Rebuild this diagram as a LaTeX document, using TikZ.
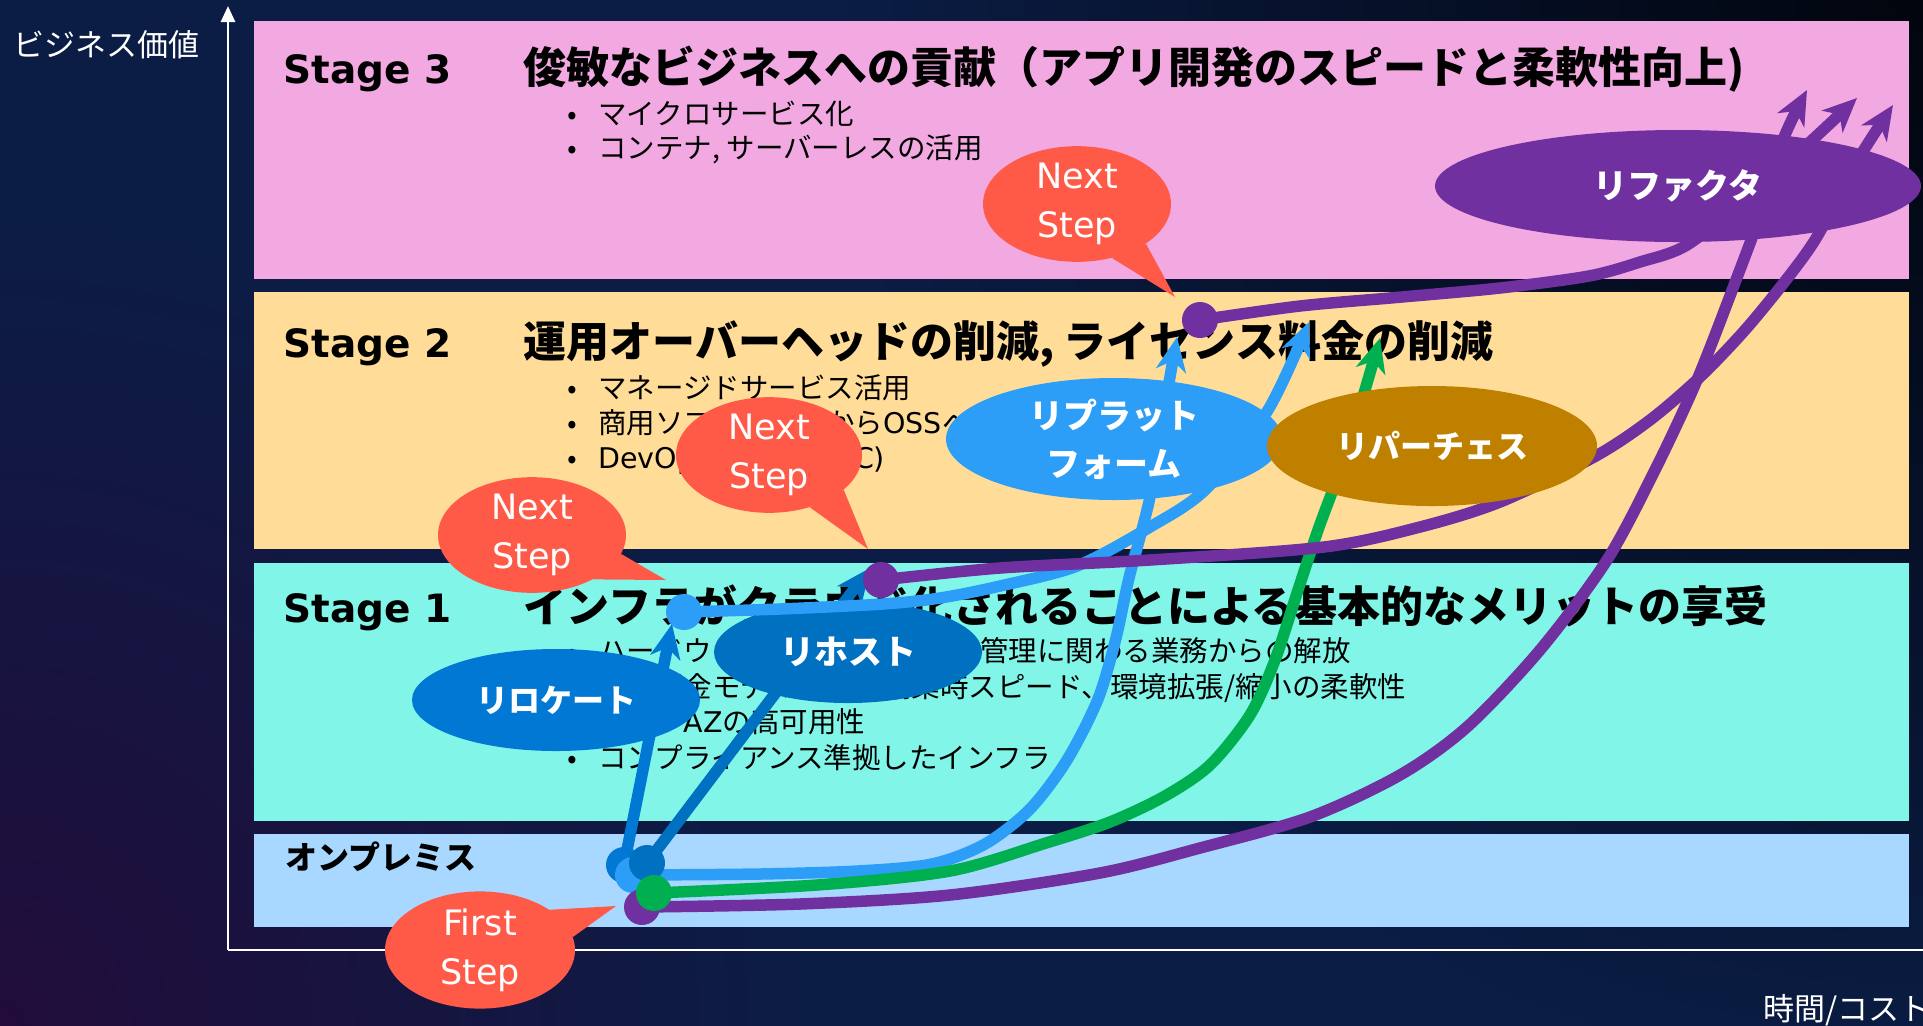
\documentclass[tikz,border=0pt]{standalone}
\usepackage{fontspec}
\setmainfont{Noto Sans CJK JP}
\newfontfamily\dvs{DejaVu Sans}
\usetikzlibrary{arrows.meta,shapes.geometric}
\definecolor{bgUR}{HTML}{01050D}
\definecolor{bgMid}{HTML}{0B1D45}
\definecolor{bgLL}{HTML}{210C3B}
\definecolor{pinkS}{HTML}{F2A8E1}
\definecolor{yelS}{HTML}{FFDD99}
\definecolor{cyaS}{HTML}{82F5E9}
\definecolor{onpS}{HTML}{A8D8FF}
\definecolor{coralc}{HTML}{FF5A48}
\definecolor{refp}{HTML}{7030A0}
\definecolor{rpblue}{HTML}{2C9EF7}
\definecolor{goldc}{HTML}{BF8000}
\definecolor{rehostc}{HTML}{0070C0}
\definecolor{relocc}{HTML}{0078D4}
\definecolor{rpgreen}{HTML}{00B050}
\newcommand\mybul{\makebox[15.5pt][l]{•}}
\begin{document}
\begin{tikzpicture}[x=0.5pt,y=-0.5pt,
  axisline/.style={draw=white,line width=1.3pt},
  stagelbl/.style={anchor=base west,inner sep=0pt,font=\dvs\bfseries\fontsize{19.5pt}{24pt}\selectfont},
  stitle/.style={anchor=base west,inner sep=0pt,font=\bfseries\fontsize{21.5pt}{26pt}\selectfont},
  bul/.style={anchor=base west,inner sep=0pt,font=\fontsize{14.25pt}{17pt}\selectfont},
  axlbl/.style={anchor=base west,inner sep=0pt,text=white,font=\fontsize{15.5pt}{18pt}\selectfont},
  ell/.style={ellipse,inner sep=0pt,text=white,align=center},
  elltxt/.style={font=\bfseries\fontsize{17pt}{24pt}\selectfont},
  nsb/.style={ell,fill=coralc,font=\dvs\fontsize{17.5pt}{24.5pt}\selectfont},
  path/.style={line width=5.75pt,line cap=round},
  tipst/.style={-{Stealth[length=17pt,width=15pt,inset=5pt]}},
  dotn/.style={circle,inner sep=0pt,minimum size=18pt}
]
\useasboundingbox (0,0) rectangle (1923,1025);
\clip (0,0) rectangle (1923,1025);
% background: navy with a dark top-right corner and a purple bottom-left corner
\fill[bgMid] (-10,-10) rectangle (1933,1035);
\shade[inner color=bgUR,outer color=bgMid] (823,-1100) rectangle (3023,1100);
\shade[inner color=bgLL,outer color=bgMid] (-820,205) rectangle (820,1845);

% axes
\coordinate (origin) at (228,950);
\coordinate (ytip) at (228,6);
\coordinate (xend) at (1940,950);
\draw[axisline,-{Triangle[length=8pt,width=7pt]}] (origin) -- (ytip);
\draw[axisline] (origin) -- (xend);
\node[axlbl] (ylab) at (13,56) {ビジネス価値};
\node[axlbl] (xlab) at (1763,1020) {時間/コスト};

% bands
\fill[pinkS] (254,21) rectangle (1909,279);
\fill[yelS] (254,292) rectangle (1909,549);
\fill[cyaS] (254,563) rectangle (1909,821);
\fill[onpS] (254,834) rectangle (1909,927);

% stage 3
\node[stagelbl] (s3l) at (283,83) {Stage 3};
\node[stitle] (s3t) at (523,83) {俊敏なビジネスへの貢献（アプリ開発のスピードと柔軟性向上)};
\node[bul] (b31) at (567,124) {\mybul マイクロサービス化};
\node[bul] (b32) at (567,158) {\mybul コンテナ, サーバーレスの活用};
% stage 2
\node[stagelbl] (s2l) at (283,357) {Stage 2};
\node[stitle] (s2t) at (523,357) {運用オーバーヘッドの削減, ライセンス料金の削減};
\node[bul] (b21) at (567,398) {\mybul マネージドサービス活用};
\node[bul] (b22) at (567,433) {\mybul 商用ソフトウェアから{\dvs OSS}へ};
\node[bul] (b23) at (567,468) {\mybul {\dvs DevOps (CI/CD, IaC)}};
% stage 1
\node[stagelbl] (s1l) at (283,622) {Stage 1};
\node[stitle] (s1t) at (523,622) {インフラがクラウド化されることによる基本的なメリットの享受};
\node[bul] (b11) at (567,661) {\mybul ハードウェア/データセンター管理に関わる業務からの解放};
\node[bul] (b12) at (567,697) {\mybul 従量課金モデル、環境構築時スピード、環境拡張/縮小の柔軟性};
\node[bul] (b13) at (567,732) {\mybul マルチ{\dvs AZ}の高可用性};
\node[bul] (b14) at (567,768) {\mybul コンプライアンス準拠したインフラ};
% on-prem
\node[anchor=base west,inner sep=0pt,font=\bfseries\fontsize{16pt}{19pt}\selectfont] (onp) at (285,869) {オンプレミス};

% coordinates
\coordinate (oReloc) at (624,865);
\coordinate (oRepA) at (633,875);
\coordinate (oRehost) at (647,863);
\coordinate (oGreen) at (654,893);
\coordinate (oPur) at (642,907);
\coordinate (s1LB) at (684,612);
\coordinate (s1Pur) at (881,580);
\coordinate (s2Pur) at (1200,320);
\coordinate (tReloc) at (672,624);
\coordinate (tRehost) at (870,568);
\coordinate (tRepA) at (1177,337);
\coordinate (tRepB) at (1309,322);
\coordinate (tGreen) at (1380,338);
\coordinate (tPur1) at (1807,90);
\coordinate (tPur2) at (1857,98);
\coordinate (tPur3) at (1893,105);

% rehost path lies under its ellipse
\draw[path,tipst,rehostc] (oRehost) -- (tRehost);

% lower ellipses
\node[ell,elltxt,fill=relocc,minimum width=144pt,minimum height=51pt,font=\bfseries\fontsize{16pt}{20pt}\selectfont] (reloc) at (556,700) {リロケート};
\node[ell,elltxt,fill=rehostc,minimum width=134pt,minimum height=51pt] (rehost) at (848,652) {リホスト};

% paths
\draw[path,tipst,relocc] (oReloc) -- (tReloc);
\draw[path,tipst,rpblue] plot[smooth,tension=0.5] coordinates {(oRepA) (760,874) (858,871) (932,864) (985,844) (1030,809) (1067,760) (1098,699) (1116,638) (1129,578) (1150,497) (1166,400) (tRepA)};
\draw[path,tipst,rpblue] plot[smooth,tension=0.5] coordinates {(s1LB) (780,609) (883,604) (940,598) (1000,586) (1077,566) (1150,527) (1206,489) (1268,410) (tRepB)};
\draw[path,tipst,rpgreen] plot[smooth,tension=0.5] coordinates {(oGreen) (817,885) (950,871) (1046,843) (1110,822) (1165,796) (1210,765) (1250,715) (1275,660) (1298,590) (1318,530) (1340,470) (1362,400) (tGreen)};
\draw[path,tipst,refp] plot[smooth,tension=0.5] coordinates {(oPur) (800,904) (950,895) (1100,873) (1200,848) (1310,817) (1400,775) (1467,727) (1540,650) (1607,560) (1655,470) (1697,380) (1736,280) (1760,215) (1783,140) (tPur1)};
\draw[path,tipst,refp] plot[smooth,tension=0.5] coordinates {(s1Pur) (1000,568) (1150,560) (1324,547) (1420,527) (1500,502) (1594,457) (1650,420) (1700,377) (1745,330) (1786,280) (1815,240) (1842,190) (1862,153) (tPur3)};
\draw[path,tipst,refp] plot[smooth,tension=0.5] coordinates {(s2Pur) (1300,306) (1402,297) (1500,288) (1589,276) (1640,262) (1687,245) (1750,195) (1810,142) (tPur2)};

% dots
\node[dotn,fill=relocc] (dReloc) at (oReloc) {};
\node[dotn,fill=rpblue] (dRepA) at (oRepA) {};
\node[dotn,fill=refp] (dPur) at (oPur) {};
\node[dotn,fill=rehostc] (dRehost) at (oRehost) {};
\node[dotn,fill=rpgreen] (dGreen) at (oGreen) {};
\node[dotn,fill=rpblue] (dS1LB) at (s1LB) {};
\node[dotn,fill=refp] (dS1Pur) at (s1Pur) {};
\node[dotn,fill=refp] (dS2Pur) at (s2Pur) {};

% upper ellipses
\node[ell,elltxt,fill=rpblue,minimum width=168pt,minimum height=61pt] (replat) at (1114,439) {リプラット\\フォーム};
\node[ell,elltxt,fill=goldc,minimum width=165pt,minimum height=60pt,font=\bfseries\fontsize{16pt}{20pt}\selectfont] (repur) at (1432,446) {リパーチェス};
\node[ell,elltxt,fill=refp,minimum width=243pt,minimum height=56pt] (refac) at (1678,186) {リファクタ};

% Next Step bubbles
\node[nsb,minimum width=94pt,minimum height=53pt] (ns1) at (1077,204) {Next\\Step};
\coordinate (ns1tip) at (1175,297);
\fill[coralc] (ns1.-57) -- (ns1tip) -- (ns1.-30) -- cycle;
\node[nsb,minimum width=93pt,minimum height=52pt] (ns2) at (769,455) {Next\\Step};
\coordinate (ns2tip) at (868,549);
\fill[coralc] (ns2.-52) -- (ns2tip) -- (ns2.-25) -- cycle;
\node[nsb,minimum width=94pt,minimum height=51pt] (ns3) at (532,535) {Next\\Step};
\coordinate (ns3tip) at (666,580);
\fill[coralc] (ns3.-12) -- (ns3tip) -- (ns3.-36) -- cycle;
\node[nsb,minimum width=95pt,minimum height=53pt] (fs) at (480,950) {First\\Step};
\coordinate (fstip) at (616,906);
\fill[coralc] (fs.30) -- (fstip) -- (fs.8) -- cycle;
\end{tikzpicture}
\end{document}
